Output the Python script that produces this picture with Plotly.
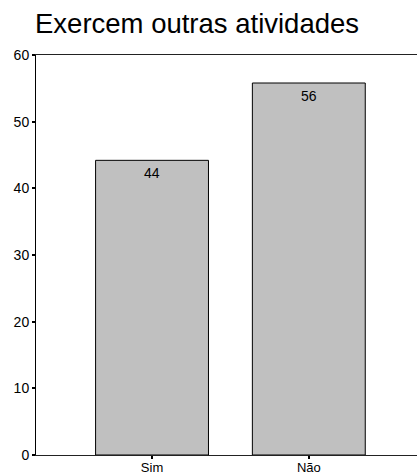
import plotly.graph_objects as go

# Share of respondents who have other occupations
categories = ["Sim", "Não"]
values = [44.2, 55.8]
labels = ["44", "56"]
y_ticks = [0, 10, 20, 30, 40, 50, 60]

fig = go.Figure()
fig.add_trace(go.Bar(
    x=categories,
    y=values,
    width=0.72,
    marker=dict(color="#c0c0c0", line=dict(color="black", width=1)),
    hoverinfo="skip",
))

for cat, val, lab in zip(categories, values, labels):
    fig.add_annotation(
        x=cat, y=val, text=lab, showarrow=False,
        yanchor="middle", yshift=-13,
        font=dict(family="Liberation Sans, Arial", size=14, color="black"),
    )

fig.update_layout(
    width=417, height=474,
    margin=dict(l=36, r=0, t=55, b=19),
    paper_bgcolor="white", plot_bgcolor="white",
    showlegend=False,
    title=dict(
        text="Exercem outras atividades",
        x=35 / 417, xanchor="left", y=1 - 23 / 474, yanchor="middle",
        font=dict(family="Liberation Sans, Arial", size=27.5, color="black"),
    ),
    font=dict(family="Liberation Sans, Arial", size=14, color="black"),
)

fig.update_xaxes(
    range=[-0.74, 1.69],
    automargin=False,
    showline=True, linecolor="#222", linewidth=1, mirror=True,
    ticks="outside", ticklen=3, tickcolor="black", tickwidth=2,
    ticklabelstandoff=-3,
    showgrid=False, zeroline=False,
    tickfont=dict(size=13),
)
fig.update_yaxes(
    range=[0, 60],
    automargin=False,
    tickvals=y_ticks,
    showline=True, linecolor="black", linewidth=1,
    ticks="outside", ticklen=3, tickcolor="black", tickwidth=2,
    showgrid=False, zeroline=False,
    tickfont=dict(size=14),
)

fig.write_html("out.html")
